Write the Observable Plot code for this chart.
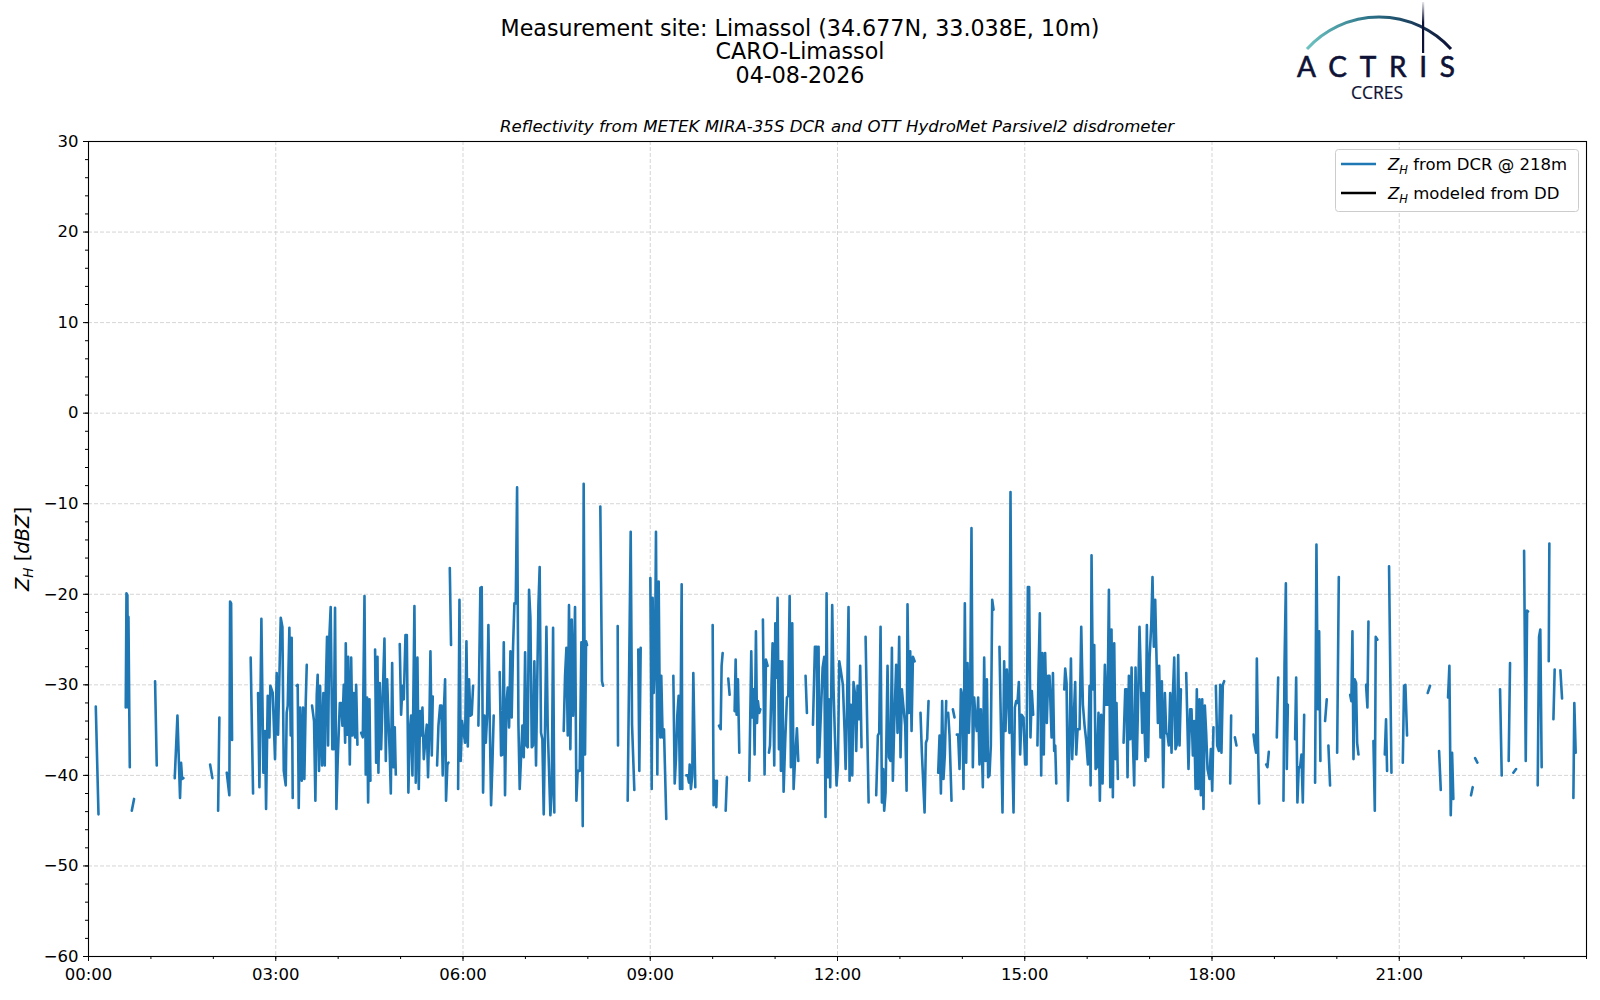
<!DOCTYPE html>
<html>
<head>
<meta charset="utf-8">
<script src="https://cdn.jsdelivr.net/npm/d3@7"></script>
<script src="https://cdn.jsdelivr.net/npm/@observablehq/plot@0.6"></script>
<style>
  html, body { margin: 0; padding: 0; background: #fff; overflow: hidden; }
  #chart svg { display: block; }
</style>
</head>
<body>
<div id="chart"></div>
<script>
// ---- Data: [minute of day, Z_H (dBZ)], null = gap in the record ----
const zhA = [
  [7.0,-32.4],[9.6,-44.3], null,
  [35.8,-32.5],[36.5,-19.9],[37.4,-20.1],[38.1,-32.5],[38.4,-22.5],[39.7,-39.1], null,
  [41.6,-43.9],[43.8,-42.6], null,
  [64.0,-29.6],[65.6,-38.9], null,
  [82.9,-40.3],[85.5,-33.4],[88.0,-42.5],[89.0,-38.6],[90.0,-40.4],[91.2,-40.3], null,
  [116.9,-38.8],[119.1,-40.3], null,
  [124.6,-43.9],[125.8,-33.6], null,
  [132.9,-39.7],[135.4,-42.2],[136.1,-20.8],[137.1,-21.0],[138.0,-36.1], null,
  [155.9,-27.0],[158.2,-42.0], null,
  [163.0,-30.9],[164.3,-41.3],[166.2,-22.7],[168.1,-39.7],[169.7,-35.1],[170.7,-43.7],[172.3,-31.2],[173.9,-35.8],[174.8,-30.1],[177.1,-30.9],[179.3,-38.2],[180.9,-28.7],[182.2,-35.5],[184.8,-22.6],[186.4,-23.6],[187.7,-39.5],[189.6,-41.1],[190.5,-33.1],[191.5,-32.3],[193.1,-23.7],[194.4,-35.6],[195.3,-24.8],[196.3,-42.5], null,
  [200.1,-30.1],[201.1,-30.0],[202.1,-43.6],[203.4,-32.5],[205.0,-40.6],[206.2,-32.5],[207.5,-40.4],[208.8,-32.0],[209.8,-27.8], null,
  [214.9,-32.3],[216.8,-34.0],[218.1,-42.8],[219.4,-31.1],[220.3,-28.9],[221.6,-39.5],[222.6,-30.1],[224.5,-38.9],[225.8,-30.9],[227.1,-38.9],[228.0,-30.9],[229.3,-24.7],[230.3,-36.7],[231.5,-24.8],[232.8,-21.4],[234.4,-37.1],[235.7,-37.1],[237.0,-21.5],[238.3,-43.7],[239.6,-38.2]
];
const zhB = [
  [241.6,-32.0],[242.9,-32.0],[244.1,-34.5],[245.4,-30.0],[246.7,-36.4],[247.3,-25.4],[248.6,-35.5],[249.6,-26.9],[251.2,-38.8],[252.5,-27.0],[253.7,-35.6],[255.0,-30.9],[256.3,-35.8],[257.3,-30.0],[258.5,-36.6], null,
  [262.1,-35.3],[263.7,-35.8],[265.3,-20.2],[266.5,-39.9],[267.8,-31.4],[268.8,-43.0],[270.1,-31.6],[271.0,-40.6], null,
  [275.5,-26.1],[276.5,-38.6],[277.8,-26.9],[278.7,-39.7],[280.0,-29.8],[281.3,-37.1],[282.2,-33.6],[284.5,-24.9],[285.8,-38.4],[287.1,-29.4],[288.3,-33.6],[289.6,-37.7],[290.6,-42.0],[291.9,-27.6],[293.1,-39.1],[294.4,-34.7],[295.4,-39.9], null,
  [299.2,-25.5],[300.5,-33.3],[301.8,-30.1],[303.1,-31.6],[304.7,-24.5],[306.0,-24.5],[307.5,-41.9],[308.8,-35.1],[310.1,-33.4],[311.4,-40.0],[313.3,-21.3],[314.6,-40.8],[316.2,-27.0],[317.5,-41.5],[318.8,-32.9],[319.7,-35.6],[321.0,-32.5],[322.3,-38.2],[323.9,-36.0],[325.2,-34.4],[326.4,-40.2],[327.7,-34.2],[328.7,-26.3],[330.0,-37.8],[330.9,-31.3], null,
  [335.1,-38.9],[336.4,-34.5],[338.0,-32.3],[339.3,-32.3],[340.5,-40.0],[341.5,-33.1],[342.8,-29.4],[343.7,-42.8],[345.0,-38.8],[346.0,-38.6], null,
  [347.3,-17.1],[348.5,-25.6], null,
  [355.3,-41.5],[356.6,-20.6],[357.8,-38.4],[359.1,-34.0],[360.7,-35.3],[362.0,-36.4],[363.3,-25.2],[364.6,-36.8],[365.8,-29.4],[367.1,-33.4],[368.4,-33.3],[369.7,-30.1], null,
  [374.8,-34.5],[376.7,-19.3],[378.0,-19.2],[379.3,-41.9],[380.6,-33.4],[381.9,-36.4],[383.1,-33.6],[384.4,-23.4],[385.7,-33.8],[387.0,-43.3],[388.3,-38.6],[389.5,-33.4], null,
  [395.3,-28.6],[396.6,-37.8],[397.9,-37.7],[399.2,-25.3],[400.4,-42.2],[401.7,-32.2],[403.0,-30.3],[404.3,-34.7],[405.6,-26.3],[406.8,-33.6],[408.1,-25.9],[409.4,-21.0],[410.7,-21.0],[412.0,-8.2],[413.3,-34.5],[414.5,-41.5],[415.8,-38.0],[417.1,-34.5],[418.4,-38.0],[419.7,-26.4],[420.9,-36.7],[422.2,-36.9],[423.5,-19.5],[424.8,-22.6],[426.1,-36.9],[427.3,-36.7],[428.6,-27.4],[430.2,-38.9],[431.2,-30.9],[432.5,-21.2],[433.7,-17.0],[435.0,-35.3],[436.3,-36.0],[437.6,-44.3],[438.9,-34.5],[440.2,-23.6],[441.4,-34.5],[444.0,-44.4],[445.3,-41.9],[446.6,-23.7],[447.8,-44.1], null,
  [456.8,-35.1],[458.1,-29.0],[459.4,-25.9],[460.7,-35.6],[461.9,-21.2],[463.2,-37.1],[464.5,-22.8],[465.8,-33.4],[467.7,-21.4],[469.0,-42.8],[470.2,-39.5],[472.2,-39.5],[473.8,-25.3],[475.1,-45.6],[476.0,-7.8],[476.7,-23.6],[477.3,-37.7],[478.3,-25.2],[479.2,-25.6], null
];
const zhC = [
  [492.0,-10.3],[493.6,-29.6],[494.6,-30.1], null,
  [508.7,-23.5],[509.0,-36.7], null,
  [518.3,-42.8],[521.2,-13.1],[522.5,-34.4],[524.7,-41.6], null,
  [528.5,-26.1],[529.5,-39.5],[530.8,-25.9], null,
  [540.1,-18.2],[541.4,-41.5],[542.3,-20.4],[543.3,-30.9],[544.6,-26.9],[545.5,-13.1],[546.8,-39.9],[548.1,-18.6],[549.0,-30.9],[549.7,-35.8],[550.6,-29.0],[551.9,-35.8],[553.2,-34.9],[555.4,-44.8], null,
  [562.2,-29.0],[563.5,-40.9],[564.7,-38.2],[566.0,-33.4],[567.3,-31.2],[568.6,-41.5],[570.2,-18.9],[570.8,-41.5], null,
  [574.7,-40.0],[576.0,-40.0],[577.2,-40.8],[577.9,-38.8],[579.1,-41.5],[580.4,-40.0],[581.4,-28.7],[583.3,-41.3], null,
  [600.0,-23.4],[600.9,-43.3],[602.2,-40.6],[603.5,-43.5],[604.1,-40.6], null,
  [606.1,-34.5],[607.7,-34.9],[608.6,-27.9],[609.6,-26.5], null,
  [612.5,-43.9],[613.7,-40.2], null,
  [615.0,-29.3],[616.3,-31.1], null,
  [621.1,-32.9],[622.1,-27.2],[623.0,-33.3],[624.3,-29.4],[625.6,-37.5], null,
  [635.2,-40.6],[637.1,-26.3],[638.1,-33.6],[639.4,-30.5],[640.3,-37.7],[641.6,-24.1],[642.6,-34.2],[643.5,-31.8],[644.8,-33.1],[645.8,-32.7], null,
  [648.3,-22.8],[649.9,-39.9],[651.2,-27.2],[652.8,-27.9], null,
  [654.1,-37.5],[655.1,-36.7],[656.3,-31.1],[657.6,-25.4],[659.2,-38.9],[660.2,-23.2],[661.5,-29.2],[662.4,-20.4],[663.7,-37.1],[664.7,-27.4],[665.6,-39.5],[666.9,-27.4],[668.2,-41.8],[669.8,-36.0],[671.4,-31.4],[672.7,-31.2],[674.0,-20.2],[675.2,-39.1],[676.5,-23.2],[677.8,-41.5],[679.4,-37.8],[681.0,-34.8],[682.3,-38.4], null,
  [689.3,-29.0],[690.6,-33.1], null,
  [696.4,-34.4],[698.3,-25.8],[700.2,-25.8],[700.8,-38.6],[701.8,-25.8],[702.4,-38.0],[705.7,-28.1],[707.3,-26.9],[708.5,-44.6],[709.5,-19.9],[710.8,-40.2],[711.7,-31.6],[713.0,-41.3],[714.9,-21.2],[716.2,-30.5],[717.5,-35.6],[719.1,-41.1]
];
const zhD = [
  [720.4,-38.8],[721.7,-27.4],[723.0,-28.3],[725.2,-30.0],[726.8,-35.1],[727.8,-39.3],[729.0,-33.6],[730.6,-21.4],[731.6,-40.6],[732.9,-32.2],[734.2,-40.0],[735.4,-29.7],[736.7,-30.9],[738.0,-37.3],[739.3,-30.1],[740.6,-33.8],[741.8,-27.9],[743.1,-36.9], null,
  [747.0,-24.7],[749.9,-43.0], null,
  [757.2,-42.2],[758.8,-35.6],[760.1,-35.3],[761.4,-23.6],[762.7,-43.0],[763.9,-39.3],[764.9,-43.9],[766.2,-41.9],[768.1,-27.9],[769.4,-38.0],[771.0,-38.4],[772.3,-25.9],[773.2,-40.6],[774.5,-34.5],[776.4,-27.8],[777.7,-35.3],[779.3,-24.7],[780.6,-38.0],[781.9,-30.5],[783.2,-32.2],[785.1,-34.5],[786.4,-41.7],[787.3,-21.1],[788.6,-33.1],[789.9,-26.3],[791.2,-35.1],[792.5,-26.9],[794.1,-27.4], null,
  [799.8,-33.1],[801.1,-37.5],[803.7,-44.1],[805.0,-36.4],[806.2,-36.0],[807.5,-31.8], null,
  [816.8,-39.7],[818.1,-35.6],[819.4,-42.0],[820.6,-31.8],[821.9,-40.4],[823.2,-37.7],[824.5,-31.8], null,
  [826.4,-33.1],[827.7,-35.6],[829.6,-42.8], null,
  [830.9,-32.7],[832.5,-33.6], null,
  [834.7,-35.5],[836.0,-35.5],[837.3,-39.3],[838.6,-30.5],[839.9,-31.2],[841.1,-41.5],[842.4,-21.0],[843.7,-38.6],[845.0,-27.6],[846.3,-35.3],[847.5,-31.2],[848.8,-12.7],[850.1,-39.1],[851.4,-31.4],[852.7,-33.8],[853.9,-35.1],[855.2,-31.4],[856.5,-38.8],[857.8,-32.7],[859.7,-41.3],[861.0,-27.0],[862.3,-38.4],[863.6,-29.4],[864.8,-40.2],[866.1,-40.0],[867.4,-36.7],[868.7,-20.6],[870.0,-21.7], null,
  [875.7,-25.8],[878.6,-44.1],[880.2,-27.4],[881.5,-35.1],[882.8,-28.3],[884.1,-31.2],[885.3,-35.3],[886.3,-8.7],[887.6,-35.1],[889.2,-44.1],[890.5,-32.5],[891.7,-31.8],[893.0,-32.0],[894.3,-29.7],[895.6,-37.7],[896.9,-33.3],[898.8,-33.6],[900.4,-38.8],[901.7,-38.8],[903.0,-19.2],[904.2,-19.2],[905.5,-35.8],[906.8,-30.7],[908.1,-33.3], null,
  [912.2,-36.7],[913.2,-28.7],[914.5,-22.1],[915.8,-40.0],[917.0,-26.5],[918.3,-37.7],[919.6,-26.5],[921.2,-34.2],[922.5,-29.0],[923.8,-29.0],[925.8,-35.8],[927.1,-28.7],[928.3,-37.3],[929.3,-36.7],[930.3,-40.9], null,
  [938.0,-30.5],[938.9,-28.2],[940.2,-29.8],[941.5,-42.8],[942.8,-37.5],[944.4,-27.1],[945.6,-38.2],[946.9,-34.2],[948.5,-29.7],[949.5,-37.7],[950.8,-34.9],[952.7,-34.9],[954.3,-23.6],[955.9,-32.2],[957.5,-34.5],[959.1,-36.2]
];
const zhE = [
  [960.7,-38.8],[962.3,-30.1],[963.3,-41.1],[964.2,-15.7],[965.5,-30.5],[966.8,-25.6],[968.1,-39.3],[969.3,-39.1],[970.9,-33.1],[972.2,-42.8],[973.5,-33.3],[974.8,-40.9],[975.7,-34.9],[977.0,-27.8],[978.3,-32.2],[979.6,-32.2],[980.9,-19.5],[982.2,-41.3],[983.4,-23.9],[984.7,-42.4],[986.0,-25.4],[987.3,-38.2],[988.2,-32.0],[989.5,-40.4], null,
  [995.0,-36.4],[996.6,-30.5],[997.8,-30.5],[998.8,-40.2],[1000.1,-29.0],[1001.4,-36.0],[1002.7,-28.1],[1003.9,-36.0],[1005.2,-41.1],[1006.5,-28.1],[1007.8,-38.2],[1009.1,-30.9],[1010.3,-23.6],[1011.6,-29.0],[1012.9,-35.3],[1014.2,-30.9],[1016.1,-38.4],[1017.4,-23.4],[1018.7,-38.0],[1020.0,-27.0],[1021.6,-23.4],[1022.8,-18.1],[1024.1,-25.8],[1025.4,-20.6],[1026.7,-27.2],[1028.0,-34.2],[1029.2,-27.9],[1030.5,-35.8],[1031.8,-29.6],[1033.1,-41.3],[1034.7,-30.9],[1036.0,-35.3],[1037.2,-35.5],[1038.5,-36.7],[1039.8,-30.9],[1041.1,-37.5],[1042.4,-31.1],[1043.7,-27.0],[1044.9,-37.1],[1046.2,-36.6],[1047.5,-26.7],[1048.8,-36.7],[1050.1,-30.5], null,
  [1055.2,-28.7],[1057.4,-39.3],[1059.0,-32.7],[1060.3,-32.7],[1061.6,-37.8],[1062.9,-34.0],[1064.2,-41.5],[1065.4,-30.5],[1066.7,-41.5],[1068.0,-31.6],[1069.3,-42.2],[1070.6,-31.6],[1071.8,-43.7],[1073.1,-32.3],[1074.4,-35.3],[1075.7,-39.3],[1077.6,-40.4],[1078.9,-37.1],[1080.2,-41.7],[1081.4,-34.7], null,
  [1083.7,-30.1],[1085.0,-36.7],[1086.6,-37.3],[1087.9,-30.0],[1089.1,-37.5],[1090.4,-30.0],[1091.7,-29.6], null,
  [1097.5,-40.9],[1098.4,-33.4], null,
  [1102.0,-35.8],[1103.5,-36.7], null,
  [1119.9,-35.5],[1121.2,-36.7],[1122.4,-37.5],[1123.1,-27.1],[1124.4,-37.5],[1125.3,-43.1], null,
  [1132.1,-38.8],[1133.3,-39.1],[1134.6,-37.4], null,
  [1142.3,-35.8],[1143.6,-29.2], null,
  [1148.7,-42.8],[1149.7,-27.8],[1151.0,-18.8],[1151.9,-39.3],[1152.9,-32.2], null,
  [1159.9,-36.0],[1160.9,-29.2],[1162.1,-43.0],[1163.4,-39.1],[1164.7,-39.1],[1166.0,-37.7],[1167.3,-43.0],[1168.6,-33.3], null,
  [1179.1,-40.8],[1180.4,-14.5],[1181.7,-32.7],[1183.0,-24.1],[1184.2,-38.4], null,
  [1188.7,-34.0],[1190.3,-31.6], null,
  [1191.9,-36.7],[1193.5,-41.1], null,
  [1200.3,-37.5],[1201.9,-18.1], null
];
const zhF = [
  [1212.8,-31.1],[1214.0,-31.8],[1215.0,-24.1],[1216.0,-38.2],[1217.2,-29.4],[1218.5,-29.8],[1219.5,-36.4],[1220.8,-37.7], null,
  [1228.1,-30.0],[1229.4,-32.5],[1230.4,-23.0], null,
  [1235.2,-36.2],[1236.5,-43.9],[1237.4,-24.7],[1239.0,-25.0], null,
  [1246.1,-37.7],[1247.3,-33.8],[1248.3,-39.5], null,
  [1250.2,-16.9],[1252.5,-39.7], null,
  [1263.4,-38.6],[1264.6,-30.1],[1265.9,-30.0],[1267.5,-35.6], null,
  [1287.4,-30.9],[1289.6,-30.1], null,
  [1298.3,-37.3],[1299.9,-41.6], null,
  [1306.9,-31.4],[1308.2,-27.9],[1309.5,-44.4],[1310.8,-37.5],[1312.0,-42.6], null,
  [1329.0,-42.2],[1330.6,-41.3], null,
  [1332.9,-38.1],[1335.1,-38.6], null,
  [1356.9,-30.5],[1358.5,-40.0], null,
  [1365.2,-38.4],[1366.5,-27.6], null,
  [1369.7,-39.7],[1372.3,-39.3], null,
  [1380.0,-15.2],[1381.6,-38.4],[1382.9,-21.8],[1383.8,-21.9], null,
  [1393.1,-41.1],[1394.4,-24.7],[1395.6,-23.9],[1396.9,-39.1], null,
  [1403.7,-27.4],[1404.3,-14.4], null,
  [1408.2,-33.8],[1409.4,-28.3], null,
  [1414.9,-28.4],[1416.5,-31.5], null,
  [1427.4,-42.5],[1428.3,-32.0],[1429.6,-37.5]
];
const zhModeledDD = []; // no disdrometer-derived values on this day

const xTickHours = [0, 3, 6, 9, 12, 15, 18, 21];
const xTickLabels = ["00:00", "03:00", "06:00", "09:00", "12:00", "15:00", "18:00", "21:00"];
const yTicks = [-60, -50, -40, -30, -20, -10, 0, 10, 20, 30];
const titleLines = ["Measurement site: Limassol (34.677N, 33.038E, 10m)", "CARO-Limassol", "04-08-2026"];
const subtitle = "Reflectivity from METEK MIRA-35S DCR and OTT HydroMet Parsivel2 disdrometer";

// ---- Build table ----
const dcr = [zhA, zhB, zhC, zhD, zhE, zhF].flat()
  .map(p => p ? {t: p[0] / 60, v: p[1]} : {t: NaN, v: NaN});

const minus = d => d < 0 ? "\u2212" + Math.abs(d) : String(d);
const gridStyle = {stroke: "#d0d0d0", strokeOpacity: 1, strokeDasharray: "4,2", strokeWidth: 0.9};

const chart = Plot.plot({
  width: 1600,
  height: 1000,
  marginTop: 141,
  marginBottom: 44,
  marginLeft: 88,
  marginRight: 14,
  style: {fontFamily: "'DejaVu Sans', sans-serif", fontSize: "16px", color: "#000", background: "#fff", overflow: "visible"},
  x: {domain: [0, 24], label: null},
  y: {domain: [-60, 30], label: null},
  marks: [
    Plot.gridX(xTickHours.slice(1), gridStyle),
    Plot.gridY(yTicks.slice(1, -1), gridStyle),
    Plot.line(zhModeledDD, {x: "t", y: "v", stroke: "#000", strokeWidth: 2.6}),
    Plot.line(dcr, {x: "t", y: "v", stroke: "#1f77b4", strokeWidth: 2.6, strokeLinejoin: "round", strokeLinecap: "round"}),
    Plot.axisX(d3.range(0, 25), {tickSize: 3, text: null, label: null}),
    Plot.axisX(xTickHours, {tickSize: 5, tickPadding: 7, tickFormat: d => xTickLabels[xTickHours.indexOf(d)], label: null, fontSize: 16.5}),
    Plot.axisY(d3.range(-60, 31, 2), {tickSize: 3, text: null, label: null}),
    Plot.axisY(yTicks, {tickSize: 5, tickPadding: 5, tickFormat: minus, label: null, fontSize: 16.5}),
    Plot.frame({stroke: "#000", strokeWidth: 1.1})
  ]
});
document.getElementById("chart").appendChild(chart);

// ---- Decorations: titles, y label, legend, logo ----
const svg = d3.select(chart);
const font = "'DejaVu Sans', sans-serif";

const tg = svg.append("g").attr("font-family", font).attr("fill", "#000").attr("text-anchor", "middle");
titleLines.forEach((s, i) => {
  tg.append("text").attr("x", 800).attr("y", 36 + i * 23.4).attr("font-size", 22.2).text(s);
});
tg.append("text").attr("x", 837).attr("y", 132).attr("font-size", 16.6).attr("font-style", "italic").text(subtitle);

// y label
const yl = svg.append("text").attr("font-family", font).attr("font-size", 19.5).attr("fill", "#000")
  .attr("text-anchor", "middle").attr("transform", "translate(29,549) rotate(-90)");
yl.append("tspan").attr("font-style", "italic").text("Z");
yl.append("tspan").attr("font-style", "italic").attr("font-size", 13.5).attr("dy", 4).text("H");
yl.append("tspan").attr("dy", -4).text(" [");
yl.append("tspan").attr("font-style", "italic").text("dBZ");
yl.append("tspan").text("]");

// legend
const lg = svg.append("g").attr("font-family", font).attr("font-size", 16.5).attr("fill", "#000").attr("text-anchor", "start");
lg.append("rect").attr("x", 1335.5).attr("y", 149.5).attr("width", 243).attr("height", 62)
  .attr("rx", 3).attr("fill", "#fff").attr("fill-opacity", 0.85).attr("stroke", "#cccccc");
const legendItems = [
  {color: "#1f77b4", rest: " from DCR @ 218m"},
  {color: "#000000", rest: " modeled from DD"}
];
legendItems.forEach((it, i) => {
  const y = 164 + i * 29;
  lg.append("line").attr("x1", 1341).attr("x2", 1376).attr("y1", y).attr("y2", y)
    .attr("stroke", it.color).attr("stroke-width", 2.6);
  const t = lg.append("text").attr("x", 1388).attr("y", y + 6);
  t.append("tspan").attr("font-style", "italic").text("Z");
  t.append("tspan").attr("font-style", "italic").attr("font-size", 11.5).attr("dy", 4).text("H");
  t.append("tspan").attr("dy", -4).text(it.rest);
});

// ACTRIS logo
const defs = svg.append("defs");
const grad = defs.append("linearGradient").attr("id", "arcGrad").attr("x1", "0%").attr("x2", "100%");
grad.append("stop").attr("offset", "0%").attr("stop-color", "#6cc3c1");
grad.append("stop").attr("offset", "45%").attr("stop-color", "#2a6f86");
grad.append("stop").attr("offset", "100%").attr("stop-color", "#0d1236");
const vgrad = defs.append("linearGradient").attr("id", "vGrad").attr("x1", "0").attr("x2", "0").attr("y1", "0").attr("y2", "1");
vgrad.append("stop").attr("offset", "0%").attr("stop-color", "#0d1236").attr("stop-opacity", 0.1);
vgrad.append("stop").attr("offset", "40%").attr("stop-color", "#0d1236").attr("stop-opacity", 1);
const logo = svg.append("g").attr("text-anchor", "start");
logo.append("path").attr("d", "M1307,49 A97,97 0 0 1 1451,49").attr("fill", "none")
  .attr("stroke", "url(#arcGrad)").attr("stroke-width", 3);
logo.append("rect").attr("x", 1422).attr("y", 2).attr("width", 2.2).attr("height", 51).attr("fill", "url(#vGrad)");
logo.append("text").attr("x", 1297).attr("y", 77).attr("font-family", "Lato, 'Open Sans', sans-serif")
  .attr("font-size", 28).attr("fill", "#0d1236").attr("stroke", "#0d1236").attr("stroke-width", 0.6)
  .attr("textLength", 158).attr("lengthAdjust", "spacing").text("ACTRIS");
logo.append("text").attr("x", 1377).attr("y", 98.5).attr("text-anchor", "middle").attr("font-family", "'Open Sans', sans-serif")
  .attr("font-size", 17.5).attr("fill", "#0d1236").attr("stroke", "#0d1236").attr("stroke-width", 0.2).text("CCRES");
</script>
</body>
</html>
